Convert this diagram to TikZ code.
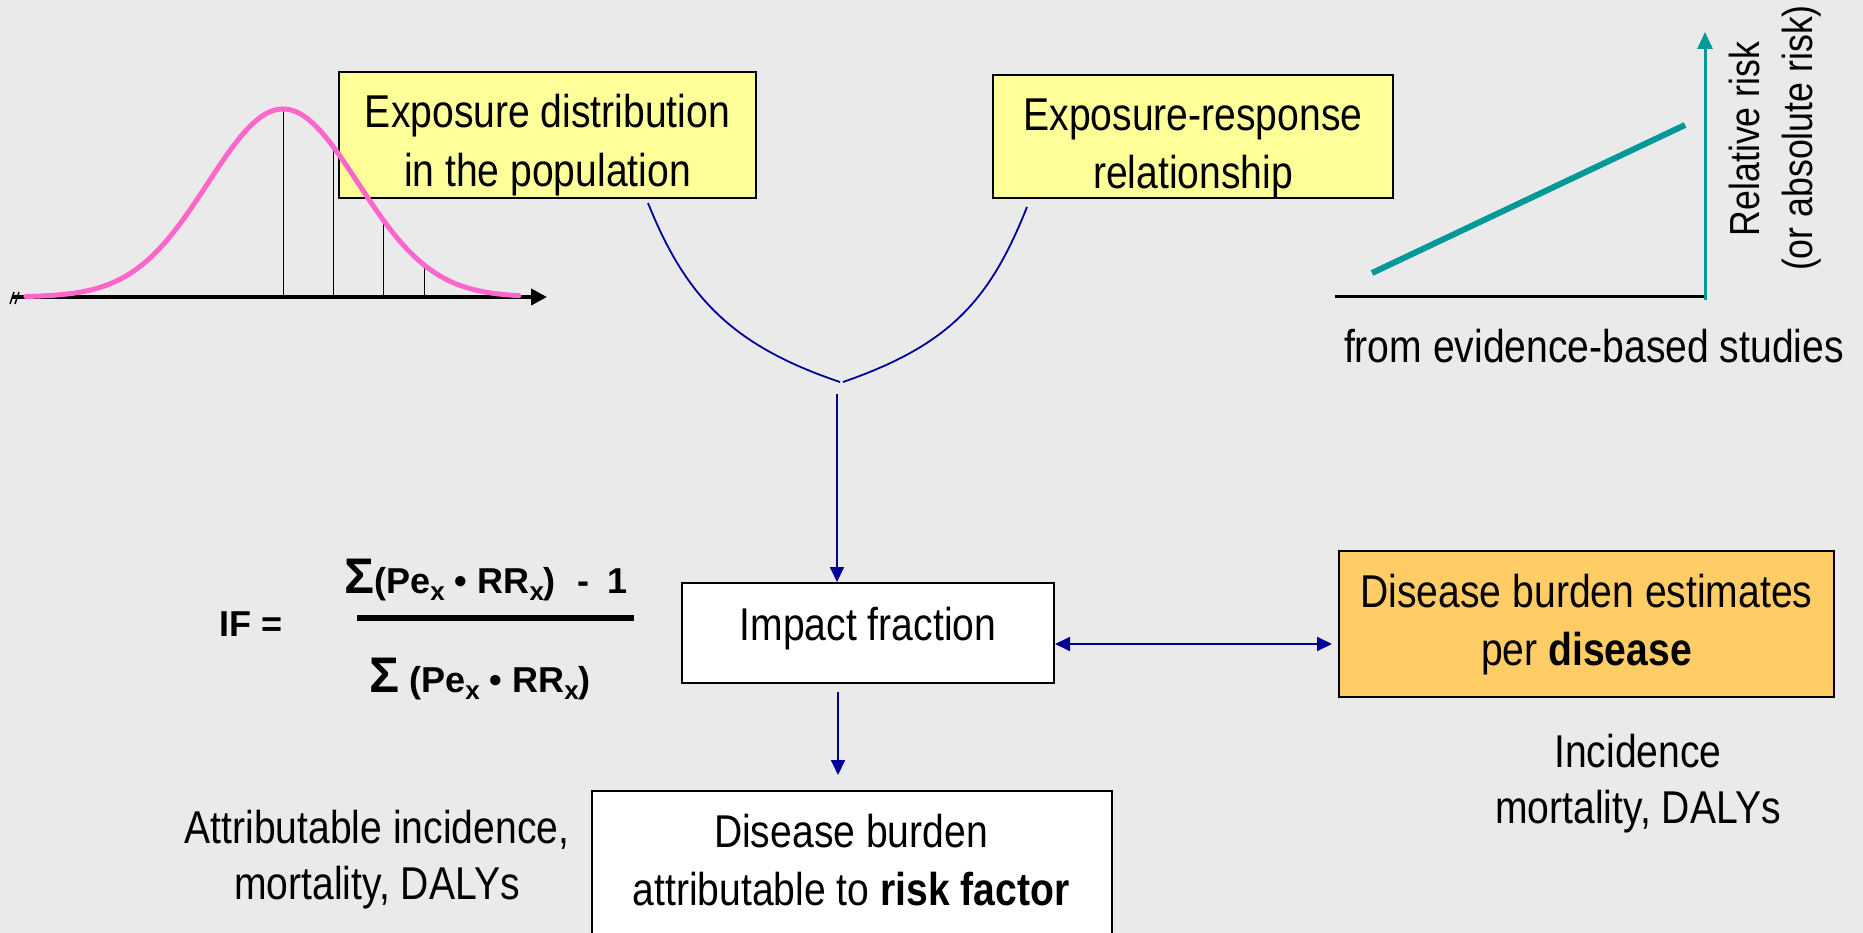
\documentclass[tikz,border=0pt]{standalone}
\usepackage{fontspec}
\setmainfont{Liberation Sans}[FakeStretch=0.85]
\newfontfamily\formfont{Liberation Sans}
\usetikzlibrary{arrows.meta}
\definecolor{bgc}{HTML}{EAEAEA}
\definecolor{yfill}{HTML}{FFFF99}
\definecolor{ofill}{HTML}{FFCC66}
\definecolor{pinkc}{HTML}{FF66CC}
\definecolor{tealc}{HTML}{009999}
\definecolor{bluec}{HTML}{000099}
\newcommand\mainsz{\fontsize{46}{56}\selectfont}
\newcommand\rotsz{\fontsize{42}{50}\selectfont}
\newcommand\sbx{\raisebox{-7pt}{\fontsize{26}{26}\selectfont x}}
\newcommand\sig{{\fontsize{50}{50}\selectfont Σ}}
\begin{document}
\begin{tikzpicture}[x=1pt,y=-1pt,
  box/.style={draw=black, line width=2pt, rectangle, inner sep=0pt},
  txt/.style={inner sep=0pt, anchor=base, font=\mainsz},
  ftxt/.style={inner sep=0pt, anchor=base, font=\formfont\bfseries\fontsize{36}{43}\selectfont},
  barrow/.style={draw=bluec, line width=1.8pt, -{Triangle[length=15pt,width=14pt]}},
  bdarrow/.style={draw=bluec, line width=1.8pt, {Triangle[length=15pt,width=14pt]}-{Triangle[length=15pt,width=14pt]}},
  funnel/.style={draw=bluec, line width=1.8pt}]
\fill[bgc] (0,0) rectangle (1863,933);
\useasboundingbox (0,0) rectangle (1863,933);
\clip (0,0) rectangle (1863,933);

% ---- boxes
\node[box, fill=yfill, minimum width=417pt, minimum height=126pt] (expd) at (547.5,135) {};
\node[box, fill=yfill, minimum width=400pt, minimum height=123pt] (expr) at (1193,136.5) {};
\node[box, fill=white, minimum width=372pt, minimum height=100pt] (imp) at (868,633) {};
\node[box, fill=white, minimum width=520pt, minimum height=154pt] (attr) at (852,868) {};
\node[box, fill=ofill, minimum width=495pt, minimum height=146pt] (dis) at (1586.5,624) {};

% ---- box texts
\node[txt] (expdA) at (547.5,128) {Exposure distribution};
\node[txt] (expdB) at (547.5,187) {in the population};
\node[txt] (exprA) at (1193,131) {Exposure-response};
\node[txt] (exprB) at (1193,189) {relationship};
\node[txt] (impT) at (868,640) {Impact fraction};
\node[txt] (attrA) at (851,847) {Disease burden};
\node[txt] (attrB) at (851,905) {attributable to \textbf{risk factor}};
\node[txt] (disA) at (1586.5,607) {Disease burden estimates};
\node[txt] (disB) at (1586.5,665) {per \textbf{disease}};

% ---- free texts
\node[txt] (incA) at (1638,767) {Incidence};
\node[txt] (incB) at (1638,823) {mortality, DALYs};
\node[txt] (atA) at (377,843) {Attributable incidence,};
\node[txt] (atB) at (377,899) {mortality, DALYs};
\node[txt] (evid) at (1594,362) {from evidence-based studies};
\node[txt, font=\rotsz, rotate=90] (rr1) at (1759,139) {Relative risk};
\node[txt, font=\rotsz, rotate=90] (rr2) at (1812,138) {(or absolute risk)};

% ---- formula
\node[ftxt] (ifl) at (251,636) {IF =};
\node[ftxt] (fnum) at (486,593) {\sig(Pe\sbx{} • RR\sbx)\hspace{0.6em}-\hspace{0.5em}1};
\node[ftxt] (fden) at (480,692) {\sig{} (Pe\sbx{} • RR\sbx)};
\draw[line width=6pt] (357,618) -- (634,618);

% ---- normal distribution
\draw[line width=4pt, -{Triangle[length=16pt,width=16pt]}] (12,297) -- (547,297);
\draw[line width=1.5pt] (10,304) -- (14,292) (15,304) -- (19,292);
\foreach \vx in {283,333,383,424}
  \draw[line width=0.8pt] (\vx,297) -- (\vx,{297-188*exp(-0.5*((\vx-283)/75)^2)});
\draw[pinkc, line width=5pt, line cap=round] plot[domain=26:519, samples=160, smooth]
  (\x,{297-188*exp(-0.5*((\x-283)/75)^2)});

% ---- exposure-response chart
\draw[line width=3pt] (1335,297) -- (1707,297);
\draw[tealc, line width=3pt, -{Triangle[length=17pt,width=15pt]}] (1705,300) -- (1705,32);
\draw[tealc, line width=6pt] (1372,273) -- (1685,125);

% ---- connectors
\coordinate (fl) at (648,203);
\coordinate (fr) at (1027,207);
\coordinate (fml) at (840,382);
\coordinate (fmr) at (843,382);
\draw[funnel] (fl) .. controls (685,295) and (730,345) .. (fml);
\draw[funnel] (fr) .. controls (990,300) and (950,345) .. (fmr);
\coordinate (d1) at (837,394);
\draw[barrow] (d1) -- (d1 |- imp.north);
\coordinate (d2s) at (838,692);
\coordinate (d2e) at (838,775);
\draw[barrow] (d2s) -- (d2e);
\coordinate (da) at (1332,644);
\draw[bdarrow] (imp.east |- da) -- (da);
\end{tikzpicture}
\end{document}
